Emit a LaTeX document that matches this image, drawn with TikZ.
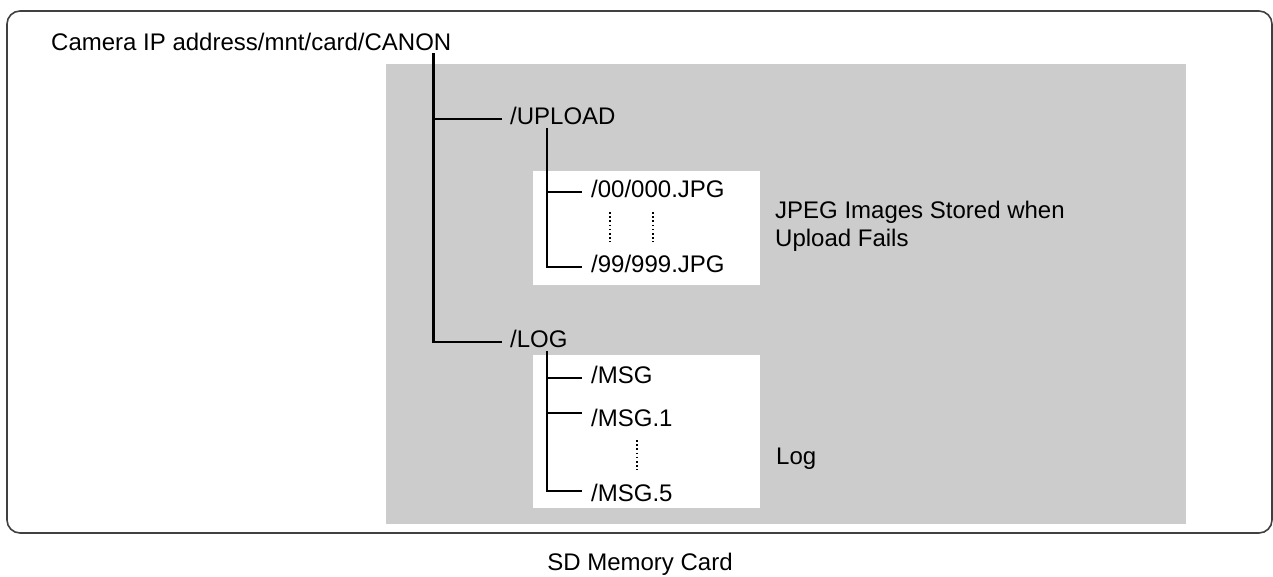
\documentclass[tikz,border=0pt]{standalone}
\usepackage{fontspec}
\setmainfont{Liberation Sans}
\usetikzlibrary{calc,positioning}
\tikzset{
  cardframe/.style = {draw=black!75, line width=1.6pt, rounded corners=13pt},
  shadebox/.style  = {fill=black!20, draw=none},
  leafbox/.style   = {fill=white, draw=none},
  dirlab/.style    = {anchor=west, inner xsep=8pt, inner ysep=0pt,
                      text height=10pt, text depth=0pt,
                      font=\fontsize{24}{28}\selectfont},
  filelab/.style   = {dirlab, inner xsep=9pt},
  notelab/.style   = {anchor=base west, inner sep=0pt, align=left,
                      font=\fontsize{24}{28}\selectfont},
  branch/.style    = {line width=2.6pt},
  ellip/.style     = {line width=1.8pt, dash pattern=on 1.6pt off 2.6pt},
}
\newcommand{\leaf}[4][]{%
  \node[filelab,#1] (#2) at (582,#3) {#4};
}

\begin{document}
\begin{tikzpicture}[x=1pt,y=-1pt]
  \useasboundingbox (0,0) rectangle (1273,576);
  \draw[cardframe] (7,11) rectangle (1272,533);
  \fill[shadebox] (386,64) rectangle (1186,524);
  \fill[leafbox] (533,171) rectangle (760,285);
  \fill[leafbox] (533,355) rectangle (760,508);

  \node[notelab] (root) at (51,50) {Camera IP address/mnt/card/CANON};
  \node[dirlab] (upload) at (502,119) {/UPLOAD};
  \node[dirlab] (log)    at (502,342) {/LOG};

  \leaf{jpgfirst}{192}{/00/000.JPG}
  \leaf{jpglast}{267}{/99/999.JPG}
  \leaf{msg}{378}{/MSG}
  \leaf[text height=26pt]{msgone}{413}{/MSG.1}
  \leaf[text height=20pt]{msgfive}{491}{/MSG.5}

  \coordinate (rootstem) at ([xshift=-18pt,yshift=-3pt]root.base east);
  \coordinate (upstem)   at ([shift={(45pt,-4pt)}]upload.south west);
  \coordinate (logstem)  at ([shift={(45pt,-4pt)}]log.south west);

  \draw[branch] (rootstem) |- (log.west);
  \draw[branch] (rootstem |- upload.west) -- (upload.west);
  \draw[branch] (upstem) |- (jpglast.west);
  \draw[branch] (upstem |- jpgfirst.west) -- (jpgfirst.west);
  \draw[branch] (logstem) |- (msgfive.west);
  \draw[branch] (logstem |- msg.west) -- (msg.west);
  \draw[branch] (logstem |- msgone.west) -- (msgone.west);

  \draw[ellip] (610,212) -- (610,242);
  \draw[ellip] (653,212) -- (653,242);
  \draw[ellip] (637,440) -- (637,470);

  \node[notelab] (jpgnote) at (775,246) {JPEG Images Stored when\\Upload Fails};
  \node[notelab] (lognote) at (776,464) {Log};
  \node[notelab, anchor=base] (cardlab) at (640,570) {SD Memory Card};
\end{tikzpicture}
\end{document}
